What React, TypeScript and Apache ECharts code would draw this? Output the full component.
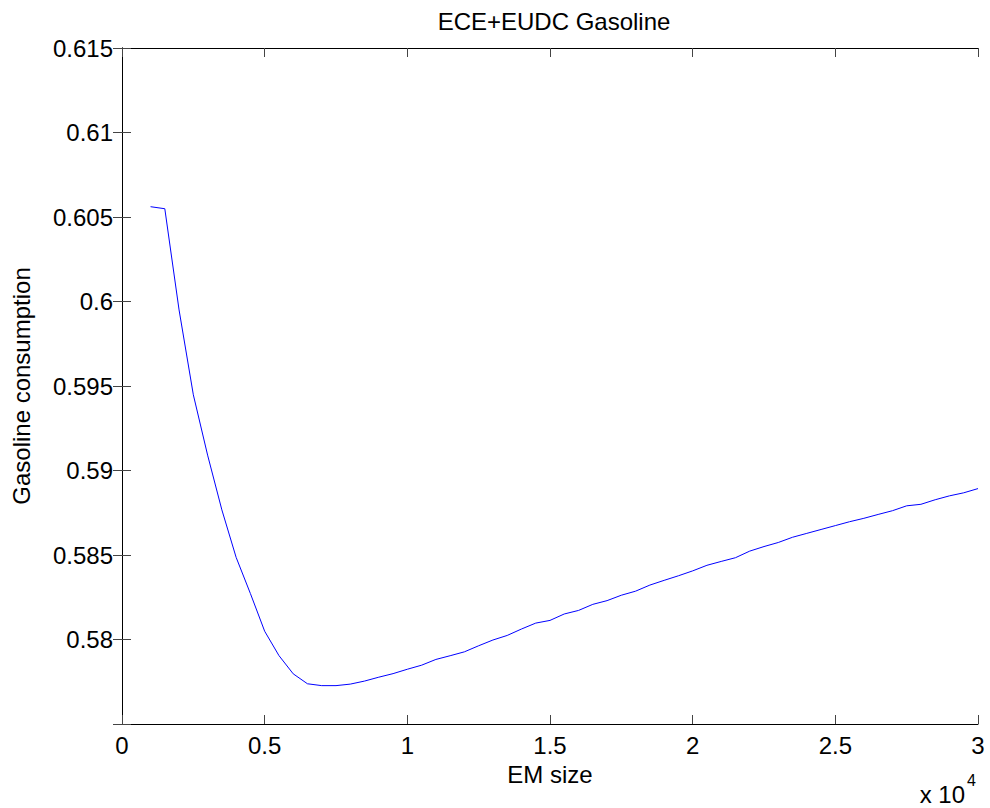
import React, { useEffect, useRef } from "react";
import * as echarts from "echarts";

const emSize = [
  1000, 1500, 2000, 2500, 3000, 3500, 4000, 4500, 5000, 5500, 6000, 6500, 7000, 7500,
  8000, 8500, 9000, 9500, 10000, 10500, 11000, 11500, 12000, 12500, 13000, 13500, 14000,
  14500, 15000, 15500, 16000, 16500, 17000, 17500, 18000, 18500, 19000, 19500, 20000,
  20500, 21000, 21500, 22000, 22500, 23000, 23500, 24000, 24500, 25000, 25500, 26000,
  26500, 27000, 27500, 28000, 28500, 29000, 29500, 30000,
];

const gasolineConsumption = [
  0.60561, 0.60549, 0.5995, 0.59448, 0.59091, 0.58767, 0.58486, 0.58272, 0.58049,
  0.57905, 0.57797, 0.57738, 0.57727, 0.57727, 0.57736, 0.57754, 0.57777, 0.57798,
  0.57824, 0.57848, 0.57882, 0.57904, 0.57927, 0.57963, 0.57997, 0.58024, 0.58062,
  0.58097, 0.58113, 0.58151, 0.58172, 0.58208, 0.5823, 0.58262, 0.58286, 0.58322,
  0.5835, 0.58377, 0.58406, 0.58439, 0.58462, 0.58484, 0.58523, 0.5855, 0.58574,
  0.58605, 0.58628, 0.58651, 0.58674, 0.58697, 0.58717, 0.5874, 0.58762, 0.58791,
  0.588, 0.58827, 0.5885, 0.58868, 0.58893,
];

const titleText = "ECE+EUDC Gasoline";
const xAxisName = "EM size";
const yAxisName = "Gasoline consumption";

const FONT = "'Liberation Sans', Arial, Helvetica, sans-serif";

export default function App() {
  const ref = useRef<HTMLDivElement>(null);

  useEffect(() => {
    if (!ref.current) return;
    const chart = echarts.init(ref.current, null, { renderer: "svg" });
    const seriesData = emSize.map((x, i) => [x, gasolineConsumption[i]]);

    const tickStyle = { show: true, inside: true, length: 9, lineStyle: { color: "#444", width: 1 } };
    const lineStyle = { show: true, lineStyle: { color: "#000", width: 1 } };
    const xFmt = (v: number) => String(parseFloat((v / 10000).toFixed(2)));
    const yFmt = (v: number) => (v < 0.5775 ? "" : String(parseFloat(v.toFixed(3))));

    chart.setOption({
      animation: false,
      backgroundColor: "#fff",
      title: {
        text: titleText,
        left: 549,
        textAlign: "center",
        top: 4,
        textStyle: { fontFamily: FONT, fontWeight: "normal", fontSize: 24, color: "#000" },
      },
      grid: { left: 122, top: 48, right: 12, bottom: 84, containLabel: false },
      xAxis: [
        {
          type: "value",
          min: 0,
          max: 30000,
          interval: 5000,
          position: "bottom",
          name: xAxisName,
          nameLocation: "middle",
          nameGap: 38,
          nameTextStyle: { fontFamily: FONT, fontSize: 24, color: "#000" },
          axisLine: lineStyle,
          axisTick: tickStyle,
          splitLine: { show: false },
          axisLabel: { formatter: xFmt, margin: 9, fontFamily: FONT, fontSize: 24, color: "#000" },
        },
        {
          type: "value",
          min: 0,
          max: 30000,
          interval: 5000,
          position: "top",
          axisLine: lineStyle,
          axisTick: tickStyle,
          splitLine: { show: false },
          axisLabel: { show: false },
        },
      ],
      yAxis: [
        {
          type: "value",
          min: 0.575,
          max: 0.615,
          interval: 0.005,
          position: "left",
          name: yAxisName,
          nameLocation: "middle",
          nameGap: 89,
          nameTextStyle: { fontFamily: FONT, fontSize: 24, color: "#000" },
          axisLine: lineStyle,
          axisTick: tickStyle,
          splitLine: { show: false },
          axisLabel: { formatter: yFmt, margin: 9, fontFamily: FONT, fontSize: 24, color: "#000" },
        },
        {
          type: "value",
          min: 0.575,
          max: 0.615,
          interval: 0.005,
          position: "right",
          axisLine: lineStyle,
          axisTick: tickStyle,
          splitLine: { show: false },
          axisLabel: { show: false },
        },
      ],
      graphic: [
        {
          type: "text",
          right: 25,
          top: 782,
          style: {
            text: "x 10",
            fontFamily: FONT,
            fontSize: 24,
            fill: "#000",
          },
        },
        {
          type: "text",
          right: 14,
          top: 772,
          style: {
            text: "4",
            fontFamily: FONT,
            fontSize: 16,
            fill: "#000",
          },
        },
      ],
      series: [
        {
          type: "line",
          xAxisIndex: 0,
          yAxisIndex: 0,
          data: seriesData,
          showSymbol: false,
          symbol: "none",
          lineStyle: { color: "#0000ff", width: 1 },
          silent: true,
        },
      ],
    });

    return () => chart.dispose();
  }, []);

  return (
    <div
      ref={ref}
      style={{ position: "absolute", left: 0, top: 0, width: 990, height: 808 }}
    />
  );
}
